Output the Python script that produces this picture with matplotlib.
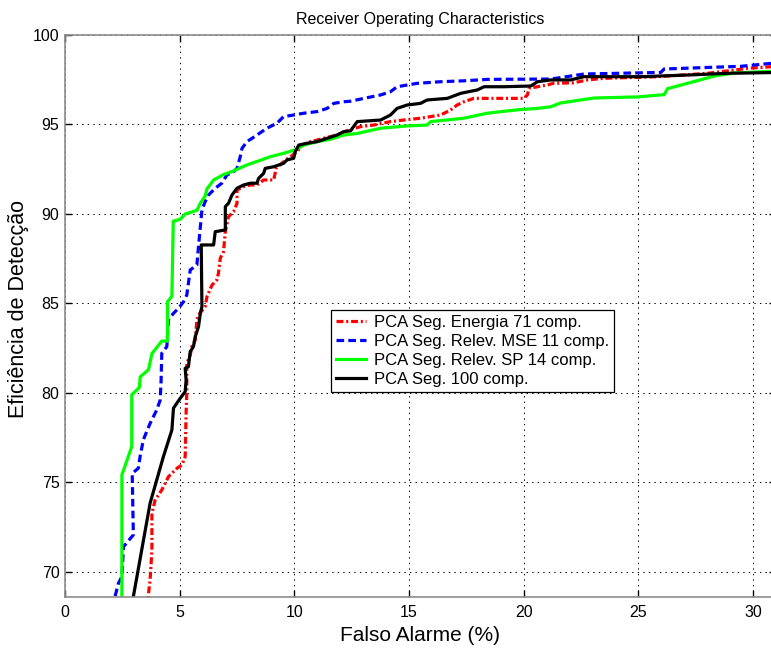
import matplotlib
matplotlib.use("Agg")
import matplotlib.pyplot as plt

plt.rcParams['lines.scale_dashes'] = False
plt.rcParams['font.family'] = ['Liberation Sans', 'DejaVu Sans']

# ROC curves: false-alarm rate (%) vs detection efficiency (%)
energia_fa = [3.57, 3.71, 3.79, 3.79, 3.93, 4.22, 4.51, 4.88, 5.10, 5.24, 5.28, 5.31,
              5.31, 5.46, 5.53, 5.68, 5.75, 5.82, 6.11, 6.19, 6.41, 6.62, 6.69, 6.77,
              6.91, 6.99, 7.13, 7.35, 7.50, 7.50, 7.79, 8.08, 8.37, 8.66, 9.10, 9.21,
              9.61, 9.83, 10.12, 10.34, 10.70, 10.99, 11.43, 11.86, 12.30, 12.88, 13.46,
              14.19, 14.77, 15.50, 15.94, 16.38, 16.81, 17.10, 17.39, 17.83, 20.01, 20.16,
              20.23, 20.60, 21.03, 21.29, 22.17, 22.78, 23.51, 25.84, 28.02, 29.18, 29.77,
              30.83, 31.5]
energia_det = [68.0, 69.55, 71.23, 73.28, 74.02, 74.58, 75.32, 75.79, 75.98, 76.44, 78.87, 79.98,
               81.66, 82.12, 82.59, 82.96, 84.08, 84.36, 84.82, 85.38, 86.03, 86.31, 86.69, 87.53,
               87.89, 89.01, 89.85, 90.13, 90.60, 91.34, 91.53, 91.62, 91.62, 91.90, 91.90, 92.57,
               93.00, 93.20, 93.48, 93.85, 94.04, 94.13, 94.28, 94.41, 94.65, 94.88, 94.97,
               95.16, 95.25, 95.35, 95.44, 95.53, 95.81, 96.09, 96.27, 96.46, 96.46, 96.65,
               97.02, 97.11, 97.21, 97.30, 97.33, 97.49, 97.58, 97.67, 97.86, 98.04, 98.14,
               98.23, 98.28]

mse_fa = [2.10, 2.18, 2.33, 2.48, 2.55, 2.98, 2.93, 3.20, 3.28, 3.42, 3.71, 4.00, 4.15, 4.19,
          4.22, 4.44, 4.51, 4.73, 4.95, 5.17, 5.31, 5.46, 5.75, 5.82, 5.97, 6.11, 6.26,
          6.55, 6.84, 7.06, 7.35, 7.50, 7.64, 7.72, 7.93, 8.37, 8.80, 9.24, 9.53, 9.97,
          10.41, 10.99, 11.43, 11.72, 12.15, 12.45, 13.03, 13.76, 14.19, 14.48, 15.36,
          16.38, 17.39, 18.41, 21.18, 22.63, 25.98, 26.12, 28.30, 29.47, 30.83, 31.5]
mse_det = [68.0, 68.62, 69.37, 69.74, 71.41, 72.07, 75.50, 75.80, 76.50, 77.40, 78.30, 79.05, 79.60, 80.70,
           82.22, 82.59, 84.08, 84.45, 84.73, 85.10, 85.47, 86.87, 87.15, 88.17, 90.22, 90.69, 91.06,
           91.44, 91.72, 92.18, 92.36, 92.55, 93.20, 93.67, 94.04, 94.41, 94.79, 95.07, 95.44, 95.53,
           95.63, 95.72, 95.90, 96.18, 96.27, 96.30, 96.46, 96.65, 96.83, 97.11, 97.30,
           97.39, 97.44, 97.52, 97.54, 97.82, 97.91, 98.10, 98.20, 98.25, 98.42, 98.45]

sp_fa = [2.48, 2.48, 2.91, 2.91, 3.24, 3.28, 3.64, 3.79, 4.22, 4.47, 4.47, 4.66, 4.72, 5.02,
         5.24, 5.75, 5.90, 6.11, 6.19, 6.48, 6.91, 7.34, 7.93, 8.52, 8.95, 9.53, 10.04,
         10.41, 10.99, 11.57, 12.15, 12.74, 13.76, 14.92, 15.79, 15.94, 17.39, 18.41, 19.72,
         20.60, 21.18, 21.60, 23.07, 24.96, 26.13, 26.27, 27.43, 28.30, 29.18, 30.83, 31.5]
sp_det = [68.0, 75.42, 77.00, 79.90, 80.30, 80.90, 81.30, 82.20, 82.90, 82.90, 85.10, 85.40, 89.60, 89.70,
          90.00, 90.20, 90.60, 91.00, 91.40, 91.90, 92.20, 92.40, 92.74, 93.00, 93.20, 93.39, 93.58,
          93.85, 94.04, 94.17, 94.41, 94.50, 94.79, 94.92, 94.97, 95.16, 95.35, 95.63, 95.82,
          95.90, 95.99, 96.20, 96.48, 96.54, 96.67, 97.00, 97.40, 97.70, 97.88, 97.97, 98.0]

full_fa = [2.90, 2.98, 3.71, 4.29, 4.66, 4.73, 5.02, 5.24, 5.28, 5.24, 5.38, 5.46, 5.60, 5.68,
           5.82, 5.90, 5.97, 5.94, 6.48, 6.55, 6.99, 6.99, 7.13, 7.28, 7.50, 7.79, 8.08,
           8.37, 8.44, 8.66, 8.73, 9.10, 9.53, 9.68, 9.97, 10.04, 10.19, 10.55, 10.99, 11.43,
           11.86, 12.15, 12.45, 12.74, 13.76, 14.19, 14.48, 14.92, 15.50, 15.79, 16.67, 17.25,
           17.98, 18.27, 19.14, 20.31, 20.60, 21.18, 22.05, 22.63, 25.10, 27.28, 28.88, 30.83, 31.5]
full_det = [68.0, 68.62, 73.84, 76.44, 77.93, 79.15, 79.70, 80.07, 80.73, 81.38, 81.47, 82.31, 82.59, 83.15,
            83.70, 84.45, 84.82, 88.27, 88.27, 89.01, 89.11, 90.41, 90.60, 91.06, 91.44, 91.62, 91.72,
            91.72, 91.99, 92.27, 92.55, 92.64, 92.83, 93.02, 93.11, 93.48, 93.85, 93.95, 94.04, 94.23,
            94.41, 94.60, 94.65, 95.16, 95.25, 95.53, 95.90, 96.09, 96.18, 96.37, 96.46, 96.74,
            96.93, 97.11, 97.11, 97.15, 97.39, 97.49, 97.49, 97.67, 97.67, 97.77, 97.86, 97.90, 97.92]

labels = ['PCA Seg. Energia 71 comp.',
          'PCA Seg. Relev. MSE 11 comp.',
          'PCA Seg. Relev. SP 14 comp.',
          'PCA Seg. 100 comp.']

x_ticks = [0, 5, 10, 15, 20, 25, 30]
y_ticks = [70, 75, 80, 85, 90, 95, 100]

fig = plt.figure(figsize=(7.71, 6.48), dpi=100)
ax = fig.add_axes([65 / 771, 51 / 648, 711 / 771, 562 / 648])

lw = 2.3
l1, = ax.plot(energia_fa, energia_det, color='#ff0000', lw=lw, label=labels[0])
l1.set_dashes([5, 2, 1.5, 2])
l2, = ax.plot(mse_fa, mse_det, color='#0000ff', lw=lw, label=labels[1])
l2.set_dashes([5.5, 3])
ax.plot(sp_fa, sp_det, color='#00ff00', lw=lw, label=labels[2])
ax.plot(full_fa, full_det, color='#000000', lw=lw, label=labels[3])

ax.set_xlim(0, 31.0)
ax.set_ylim(68.6, 100)
ax.set_xticks(x_ticks)
ax.set_yticks(y_ticks)
ax.tick_params(direction='in', length=5, width=1, top=True, right=True,
               labelsize=11.5, colors='black')
ax.tick_params(axis='y', pad=4)
ax.tick_params(axis='x', pad=6)
for sp in ax.spines.values():
    sp.set_color('#8c8c8c')
    sp.set_linewidth(1.2)
ax.grid(True, color='black', linestyle=(0, (1, 3)), linewidth=0.7)
ax.set_axisbelow(True)

ax.set_title('Receiver Operating Characteristics', fontsize=11.5, pad=8)
ax.set_xlabel('Falso Alarme (%)', fontsize=15, labelpad=4)
ax.set_ylabel('Eficiência de Detecção', fontsize=15.5)
ax.yaxis.set_label_coords(-0.051, 0.513)

leg = ax.legend(loc='upper left', bbox_to_anchor=(0.374, 0.511), fontsize=12,
                frameon=True, fancybox=False, edgecolor='black', framealpha=1,
                borderpad=0.3, labelspacing=0.25, handlelength=1.8,
                handletextpad=0.5, borderaxespad=0)
leg.get_frame().set_linewidth(0.9)

fig.savefig('out.png', dpi=100)
